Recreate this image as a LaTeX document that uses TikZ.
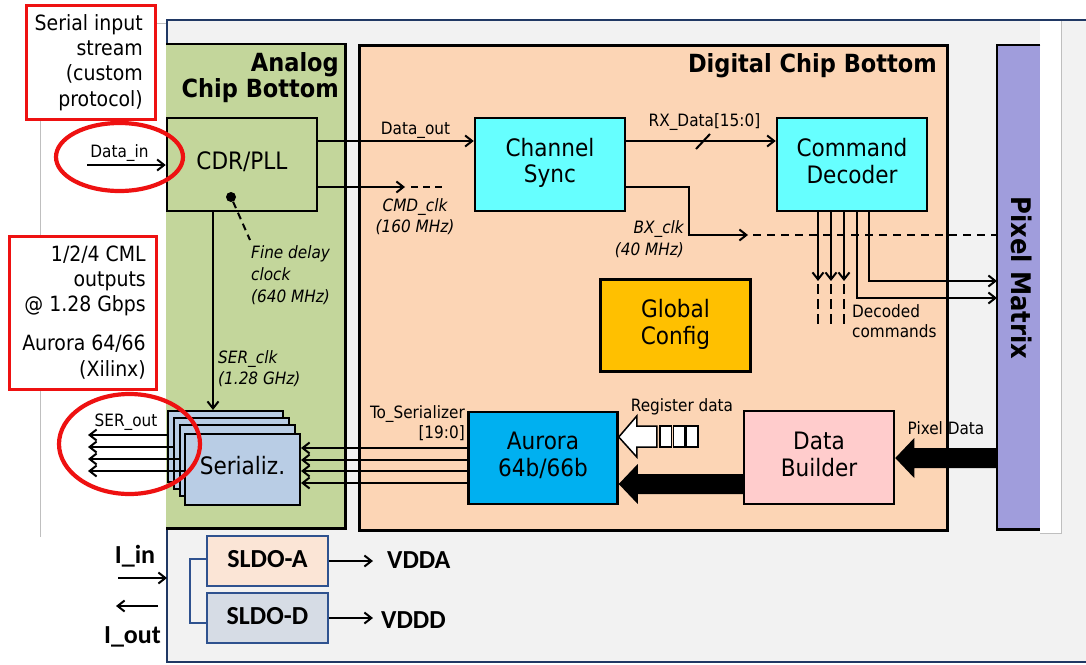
\documentclass[tikz,border=0pt]{standalone}
\usepackage{fontspec}
\setmainfont{DejaVu Sans Condensed}
\newfontfamily\calfont{Carlito}
\usetikzlibrary{arrows.meta,calc}
\definecolor{chipgray}{HTML}{F2F2F2}
\definecolor{navyline}{HTML}{203864}
\definecolor{agreen}{HTML}{C3D69B}
\definecolor{peach}{HTML}{FCD5B5}
\definecolor{cyanbox}{HTML}{66FFFF}
\definecolor{lav}{HTML}{A09DDC}
\definecolor{goldbox}{HTML}{FFC000}
\definecolor{aurblue}{HTML}{00B0F0}
\definecolor{pinkbox}{HTML}{FFCCCC}
\definecolor{serblue}{HTML}{B9CDE5}
\definecolor{sldoafill}{HTML}{FBE5D6}
\definecolor{sldodfill}{HTML}{D6DCE5}
\definecolor{sldoline}{HTML}{2F528F}
\definecolor{redmark}{HTML}{EE1111}
\definecolor{guidegray}{HTML}{BFBFBF}
\tikzset{
  blk/.style={draw=black, line width=2.5pt, align=center, inner sep=0pt,
    minimum width=150pt, minimum height=93pt, font=\fontsize{24}{26}\selectfont},
  ser/.style={draw=black, line width=2pt, fill=serblue, inner sep=0pt,
    minimum width=115pt, minimum height=71pt, font=\fontsize{24}{26}\selectfont},
  con/.style={line width=2pt, -{Straight Barb[length=7pt,width=11pt]}},
  pl/.style={line width=2pt},
  dsh/.style={line width=2pt, dash pattern=on 8pt off 6pt},
  lbl/.style={inner sep=0pt, font=\fontsize{17}{21}\selectfont},
  ilbl/.style={inner sep=0pt, font=\fontsize{17}{22}\selectfont\itshape},
  ttl/.style={inner sep=0pt, align=right, font=\fontsize{25}{26}\selectfont\bfseries},
  note/.style={inner sep=0pt, align=right, font=\fontsize{21}{25.3}\selectfont},
  redbox/.style={draw=redmark, line width=2.5pt, fill=white, inner sep=0pt},
  ring/.style={draw=redmark, line width=4.2pt},
  cal/.style={inner sep=0pt, font=\fontsize{26}{30}\selectfont\calfont\bfseries},
  sldo/.style={draw=sldoline, line width=2pt, inner sep=0pt, minimum width=121pt,
    minimum height=50pt, font=\fontsize{26}{30}\selectfont\calfont\bfseries},
}
\begin{document}
\begin{tikzpicture}[x=1pt,y=-1pt]
\useasboundingbox (0,0) rectangle (1086,664);
\fill[white] (0,0) rectangle (1086,664);
% guide lines
\draw[guidegray, line width=1pt] (40,23) -- (40,537);
\draw[guidegray, line width=1pt] (154,23) -- (167,23);
% chip outline
\node[fill=chipgray, inner sep=0pt, minimum width=919pt, minimum height=642pt, anchor=north west] (chip) at (167,20) {};
\fill[white] (1040,21) rectangle (1061,533);
\draw[guidegray, line width=0.8pt] (1061,21) -- (1061,533) -- (1040,533);
\draw[navyline, line width=2pt] (chip.north east) -- (chip.north west) -- (chip.south west) -- (chip.south east);
% big regions
\node[fill=agreen, inner sep=0pt, minimum width=179pt, minimum height=484pt, anchor=north west] (analog) at (166,44) {};
\draw[line width=2.5pt] (analog.north west) -- (analog.north east) -- (analog.south east) -- (analog.south west);
\node[fill=peach, draw=black, line width=2.5pt, inner sep=0pt, minimum width=588pt, minimum height=485pt, anchor=north west] (digital) at (358,44) {};
\node[fill=lav, inner sep=0pt, minimum width=43pt, minimum height=484pt, anchor=north west] (pm) at (997,45) {};
\draw[line width=2.5pt] (pm.north east) -- (pm.north west) -- (pm.south west) -- (pm.south east);
\node[inner sep=0pt, rotate=-90, font=\fontsize{27}{30}\selectfont\bfseries] (pmtext) at (1022,278) {Pixel Matrix};
% titles
\node[ttl, anchor=base east] (atitle) at (339,97) {Analog\\Chip Bottom};
\node[ttl, anchor=base east] (dtitle) at (937,72) {Digital Chip Bottom};
% red note boxes
\node[redbox, minimum width=129pt, minimum height=114pt, anchor=north west] (rb1) at (25,4) {};
\node[note, anchor=base east] (rb1t) at (143,106) {Serial input\\stream\\(custom\\protocol)};
\node[redbox, minimum width=147pt, minimum height=153pt, anchor=north west] (rb2) at (8,235) {};
\node[note, anchor=base east] (rb2t) at (146,376) {1/2/4 CML\\outputs\\@ 1.28 Gbps\\[13.7pt]Aurora 64/66\\(Xilinx)};
% blocks
\node[blk, fill=agreen] (cdr) at (242,164.5) {CDR/PLL\strut};
\node[blk, fill=cyanbox] (sync) at (550,164.5) {Channel\strut\\Sync\strut};
\node[blk, fill=cyanbox] (dec) at (852,164.5) {Command\strut\\Decoder\strut};
\node[blk, fill=goldbox, minimum height=92pt] (gcfg) at (675.5,325.5) {Global\strut\\Config\strut};
\node[blk, fill=aurblue, minimum width=149pt, minimum height=92pt] (aur) at (543,458) {Aurora\strut\\64b/66b\strut};
\node[blk, fill=pinkbox] (db) at (819,457.5) {Data\strut\\Builder\strut};
\node[ser] (ser0) at (225.5,446.5) {};
\node[ser] (ser1) at (231.5,453.5) {};
\node[ser] (ser2) at (237.5,460.5) {};
\node[ser] (ser3) at (242.5,469.5) {Serializ.\strut};
\node[sldo, fill=sldoafill] (sa) at (267.5,561) {SLDO-A\strut};
\node[sldo, fill=sldodfill] (sd) at (267.5,618) {SLDO-D\strut};
% helper coordinates
\coordinate (r141) at (0,141);
\coordinate (r187) at (0,187);
\coordinate (dinS) at (87,165);
\coordinate (cmdA) at (405,187);
\coordinate (cmdB) at (443,187);
\coordinate (bxA) at (689,187);
\coordinate (bxK) at (689,235);
\coordinate (bxB) at (748,235);
\coordinate (scx) at (213,0);
% connectors
\draw[con] (dinS) -- (dinS -| cdr.west);
\draw[con] (cdr.east |- r141) -- (sync.west |- r141);
\draw[con] (cdr.east |- r187) -- (cmdA);
\draw[dsh, dash pattern=on 7pt off 5pt] ([xshift=6pt]cmdA) -- (cmdB);
\draw[con] (sync.east |- r141) -- (dec.west |- r141);
\draw[pl] (696,149) -- (710,134);
\draw[con] (sync.east |- r187) -- (bxA) -- (bxK) -- (bxB);
\draw[dsh] ([xshift=5pt]bxB) -- (bxB -| pm.west);
\foreach \x/\n in {818/a,831/b,844/c}{
  \coordinate (dt\n) at (\x,281);
  \draw[con] (dec.south -| dt\n) -- (dt\n);
  \draw[pl, dash pattern=on 10pt off 5pt] ([yshift=-3pt]dt\n) -- ++(0,42);
}
\coordinate (d5) at (869,281);
\draw[con] (dec.south -| d5) -- (d5) -- (d5 -| pm.west);
\coordinate (d4) at (857,298);
\draw[con] (dec.south -| d4) -- (d4) -- (d4 -| pm.west);
\node[circle, fill=black, inner sep=0pt, minimum size=10pt] (dot) at (231,197) {};
\coordinate (fineE) at (250,240);
\draw[pl, dash pattern=on 7pt off 5pt] (dot) -- (fineE);
\draw[con] (cdr.south -| scx) -- (ser0.north -| scx);
\foreach \i/\y in {0/435,1/447,2/459,3/471}{
  \coordinate (so\i) at (88,\y);
  \draw[con] (ser\i.west |- so\i) -- (so\i);
}
\foreach \y in {448,460,471,483}{
  \coordinate (ts) at (0,\y);
  \draw[con] (aur.west |- ts) -- (ser3.east |- ts);
}
% fat arrows
\coordinate (r437) at (0,437);
\coordinate (r484) at (0,484);
\coordinate (r474) at (0,474);
\coordinate (r494) at (0,494);
\coordinate (r458) at (0,458);
\coordinate (r448) at (0,448);
\coordinate (r468) at (0,468);
\draw[fill=white, line width=1.5pt] (aur.east |- r437) -- ++(18,-21) -- ++(0,10) -- ++(20,0) -- ++(0,21) -- ++(-20,0) -- ++(0,10) -- cycle;
\foreach \a in {660,673.5,686.5}{
  \draw[fill=white, line width=1.5pt] (\a,426) rectangle ++(11.5,21);
}
\fill (aur.east |- r484) -- ++(19,-20) -- ++(0,10) -- (db.west |- r474) -- (db.west |- r494) -- ($(aur.east |- r484)+(19,10)$) -- ++(0,10) -- cycle;
\fill (db.east |- r458) -- ++(19,-20) -- ++(0,10) -- (pm.west |- r448) -- (pm.west |- r468) -- ($(db.east |- r458)+(19,10)$) -- ++(0,10) -- cycle;
% labels
\node[lbl, anchor=base] (ldin) at (119.5,157) {Data\_in};
\node[lbl, anchor=base] (ldout) at (415.5,134) {Data\_out};
\node[ilbl, anchor=base, align=center, font=\fontsize{17}{21}\selectfont\itshape] (lcmd) at (415,232) {CMD\_clk\\(160 MHz)};
\node[lbl, anchor=base] (lrx) at (704.5,126) {RX\_Data[15:0]};
\node[ilbl, anchor=base east, align=right] (lbx) at (684,255) {BX\_clk\\(40 MHz)};
\node[ilbl, anchor=base west, align=left] (lfine) at (251,302) {Fine delay\\clock\\(640 MHz)};
\node[ilbl, anchor=base west, align=left, font=\fontsize{17}{21}\selectfont\itshape] (lserclk) at (218,384) {SER\_clk\\(1.28 GHz)};
\node[lbl, anchor=base] (lserout) at (126,426) {SER\_out};
\node[lbl, anchor=base east, align=right, font=\fontsize{17}{20}\selectfont] (lts) at (465,438) {To\_Serializer\\{}[19:0]};
\node[lbl, anchor=base] (lreg) at (682,411) {Register data};
\node[lbl, anchor=base] (lpix) at (946,434) {Pixel Data};
\node[lbl, anchor=base west, align=left, font=\fontsize{17}{19.5}\selectfont] (ldec) at (852,337) {Decoded\\commands};
% bottom power section
\draw[sldoline, line width=2pt] ([yshift=2pt]sa.west) -- ++(-16,0) |- ([yshift=-5pt]sd.west);
\node[cal, anchor=base west] (vdda) at (387,568) {VDDA};
\node[cal, anchor=base west] (vddd) at (381,628) {VDDD};
\coordinate (vaE) at (373,561);
\coordinate (vdE) at (373,618);
\draw[con] (sa.east) -- (vaE);
\draw[con] (sd.east) -- (vdE);
\node[cal, anchor=base] (liin) at (135,563) {I\_in};
\node[cal, anchor=base] (liout) at (132.5,643) {I\_out};
\coordinate (iinS) at (118,578);
\draw[con] (iinS) -- (iinS -| chip.west);
\coordinate (ioutS) at (158,606);
\coordinate (ioutE) at (116,606);
\draw[con] (ioutS) -- (ioutE);
% red rings
\draw[ring] (119.5,157) ellipse [x radius=63.5pt, y radius=34pt];
\draw[ring] (129.5,444) ellipse [x radius=70.5pt, y radius=50pt];
\end{tikzpicture}
\end{document}
